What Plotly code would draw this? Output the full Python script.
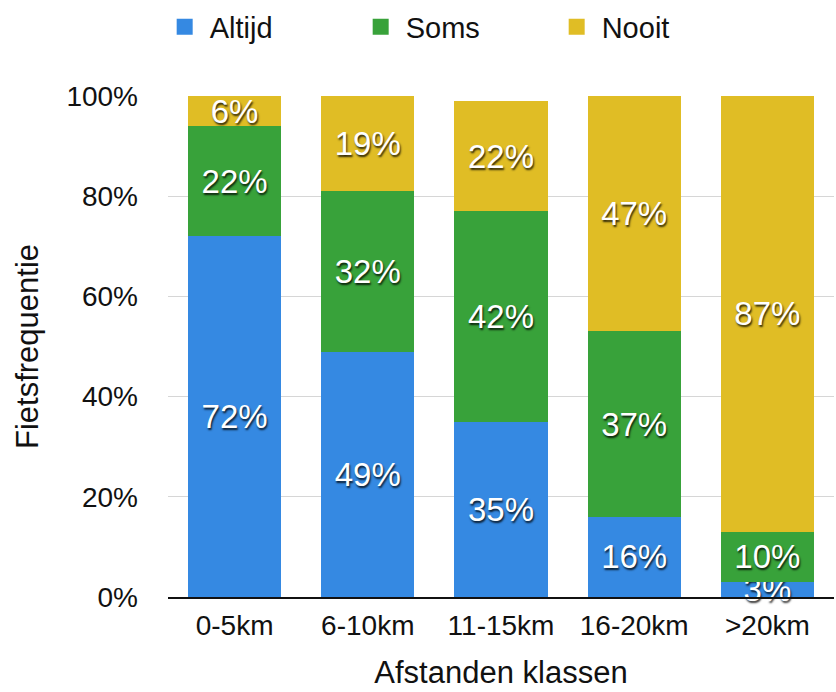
import plotly.graph_objects as go

categories = ["0-5km", "6-10km", "11-15km", "16-20km", ">20km"]
altijd = [72, 49, 35, 16, 3]
soms = [22, 32, 42, 37, 10]
nooit = [6, 19, 22, 47, 87]
y_ticks = [0, 20, 40, 60, 80, 100]
y_tick_labels = ["0%", "20%", "40%", "60%", "80%", "100%"]

FONT = "Liberation Sans, Arial, Helvetica, sans-serif"

series = [
    ("Altijd", altijd, "#3589e2"),
    ("Soms", soms, "#38a23a"),
    ("Nooit", nooit, "#e0bd25"),
]

label_font = dict(family=FONT, size=33, color="white",
                  shadow="1px 2px 2px rgba(0,0,0,0.8)")

fig = go.Figure()
for name, vals, color in series:
    fig.add_trace(go.Bar(
        x=categories, y=vals, name=name, showlegend=False,
        marker=dict(color=color, line=dict(width=0)),
        text=[f"{v}%" for v in vals],
        textposition="inside", insidetextanchor="middle",
        textfont=label_font, cliponaxis=False,
        hoverinfo="skip",
    ))

# legend keys drawn as larger square swatches
for name, _, color in series:
    fig.add_trace(go.Scatter(
        x=[None], y=[None], mode="markers", name=name,
        marker=dict(symbol="square", size=19, color=color),
        showlegend=True, hoverinfo="skip",
    ))

fig.update_layout(
    barmode="stack",
    bargap=0.3,
    width=836, height=692,
    margin=dict(l=168, r=2, t=96, b=95, autoexpand=False),
    paper_bgcolor="white", plot_bgcolor="white",
    font=dict(family=FONT, size=28, color="#111"),
    uniformtext=dict(minsize=33, mode="show"),
    legend=dict(orientation="h", x=0.191, xref="container", y=0.998, yref="container",
                yanchor="top", xanchor="left", entrywidth=141, traceorder="normal",
                font=dict(size=29), itemsizing="trace", itemwidth=40,
                tracegroupgap=0),
    xaxis=dict(showgrid=False, showline=True, linecolor="#111", linewidth=2,
               ticks="", tickfont=dict(size=28), ticklabelstandoff=2,
               title=dict(text="Afstanden klassen", font=dict(size=31), standoff=22)),
    yaxis=dict(range=[0, 100], tickvals=y_ticks, ticktext=y_tick_labels,
               showgrid=True, gridcolor="#d6d6d6", gridwidth=1, zeroline=False,
               ticks="", ticklabelstandoff=29, tickfont=dict(size=28),
               title=dict(text="Fietsfrequentie", font=dict(size=31), standoff=18)),
)

fig.write_html("out.html")
